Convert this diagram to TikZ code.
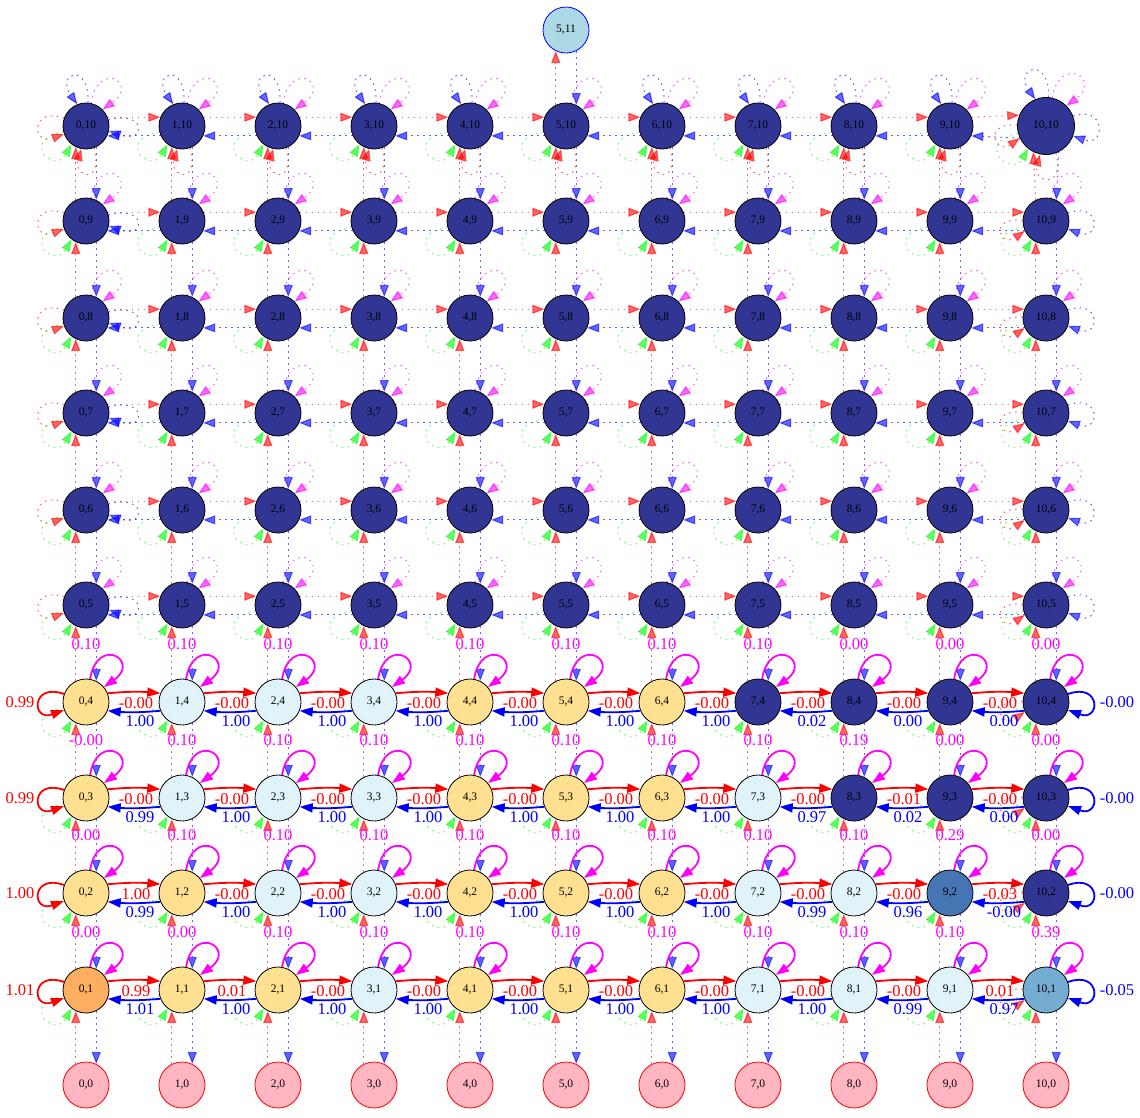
\documentclass[tikz,border=0pt]{standalone}
\usepackage{fontspec}
\setmainfont{Liberation Serif}
\usetikzlibrary{arrows.meta}
\definecolor{navy}{HTML}{313695}
\definecolor{lcyan}{HTML}{E0F3F8}
\definecolor{lyel}{HTML}{FEE090}
\definecolor{lorange}{HTML}{FDAE61}
\definecolor{mblue}{HTML}{4575B4}
\definecolor{sblue}{HTML}{74ADD1}
\definecolor{lpink}{HTML}{FFB6C1}
\definecolor{lblue}{HTML}{ADD8E6}
\definecolor{pmag}{HTML}{FF00FF}
\definecolor{pred}{HTML}{FF0000}
\definecolor{pblue}{HTML}{0000FF}
\definecolor{pgreen}{HTML}{00FF00}
\begin{document}
\begin{tikzpicture}[x=1pt,y=1pt,
 gn/.style={circle,draw=black,line width=0.8pt,inner sep=0pt,minimum size=46pt,font=\fontsize{11.5}{12}\selectfont},
 lbl/.style={font=\fontsize{16.5}{17}\selectfont,inner sep=0pt},
 solidE/.style={line width=1.8pt,-{Triangle[length=13pt,width=9pt]}},
 redE/.style={solidE,draw=pred},
 blueE/.style={solidE,draw=pblue},
 magE/.style={solidE,draw=pmag},
 dotE/.style={line width=1.1pt,dash pattern=on 1.5pt off 4.5pt,opacity=0.6,-{Triangle[length=12pt,width=9pt]}},
 redD/.style={dotE,draw=pred},
 blueD/.style={dotE,draw=pblue},
 magD/.style={dotE,draw=pmag},
 greenD/.style={dotE,draw=pgreen},
]
\useasboundingbox (0,0) rectangle (1140,-1117);

% ---------- nodes ----------
\foreach \j/\y/\cols in {
 1/990/{lorange,lyel,lyel,lcyan,lyel,lyel,lyel,lcyan,lcyan,lcyan,sblue},
 2/893/{lyel,lyel,lcyan,lcyan,lyel,lyel,lyel,lcyan,lcyan,mblue,navy},
 3/798/{lyel,lcyan,lcyan,lcyan,lyel,lyel,lyel,lcyan,navy,navy,navy},
 4/702/{lyel,lcyan,lcyan,lcyan,lyel,lyel,lyel,navy,navy,navy,navy}}{
 \foreach \c [count=\i from 0] in \cols {
   \node[gn,fill=\c] (n\i-\j) at ({86+96*\i},-\y) {\i,\j};
 }
}
\foreach \j/\y in {5/605,6/510,7/413,8/318,9/221,10/126}{
 \foreach \i in {0,...,10}{
   \pgfmathsetmacro\sz{(\i==10 && \j==10) ? 57 : 46}
   \node[gn,fill=navy,minimum size=\sz pt] (n\i-\j) at ({86+96*\i},-\y) {\i,\j};
 }
}
\foreach \i in {0,...,10}{
 \node[gn,fill=lpink,draw=pred] (n\i-0) at ({86+96*\i},-1085) {\i,0};
}
\node[gn,fill=lblue,draw=pblue] (n5-11) at (566,-30) {5,11};

% ---------- dotted vertical edges ----------
\foreach \i in {0,...,10}{
 \foreach \j in {0,...,9}{
  \pgfmathtruncatemacro\jj{\j+1}
  \draw[redD] (n\i-\j.116) -- (n\i-\jj.244);
  \draw[blueD] (n\i-\jj.-64) -- (n\i-\j.64);
 }
}
\draw[redD] (n5-10.116) -- (n5-11.244);
\draw[blueD] (n5-11.-64) -- (n5-10.64);

% ---------- green dotted loops ----------
\foreach \j in {1,...,10}{
 \foreach \i in {0,...,10}{
  \draw[greenD] (n\i-\j.195) .. controls +(190:45) and +(240:35) .. (n\i-\j.232);
 }
}

% ---------- dotted horizontal edges rows 5-10 ----------
\foreach \j in {5,...,10}{
 \foreach \i in {0,...,9}{
  \pgfmathtruncatemacro\ii{\i+1}
  \draw[redD] (n\i-\j.22) -- (n\ii-\j.158);
  \draw[blueD] (n\ii-\j.205) -- (n\i-\j.-25);
 }
 \foreach \i in {0,...,10}{
  \draw[magD] (n\i-\j.78) .. controls +(80:45) and +(35:45) .. (n\i-\j.45);
 }
 \draw[redD] (n0-\j.160) .. controls +(160:35) and +(200:35) .. (n0-\j.200);
 \draw[blueD] (n0-\j.15) .. controls +(15:40) and +(-20:40) .. (n0-\j.-12);
 \draw[blueD] (n10-\j.20) .. controls +(20:35) and +(-20:35) .. (n10-\j.-20);
}
% column 10 red dotted loops
\foreach \j in {1,...,10}{
 \draw[redD] (n10-\j.178) .. controls +(175:35) and +(215:30) .. (n10-\j.205);
}
% row 10 blue top loops and red bottom loops
\foreach \i in {0,...,10}{
 \ifnum\i=5\else
  \draw[blueD] (n\i-10.85) .. controls +(88:42) and +(125:38) .. (n\i-10.112);
 \fi
 \draw[redD] (n\i-10.290) .. controls +(285:38) and +(255:30) .. (n\i-10.258);
}

% ---------- solid horizontal edges rows 1-4 ----------
\foreach \i/\j/\r/\b in {
 0/4/-0.00/1.00, 1/4/-0.00/1.00, 2/4/-0.00/1.00, 3/4/-0.00/1.00, 4/4/-0.00/1.00,
 5/4/-0.00/1.00, 6/4/-0.00/1.00, 7/4/-0.00/0.02, 8/4/-0.00/0.00, 9/4/-0.00/0.00,
 0/3/-0.00/0.99, 1/3/-0.00/1.00, 2/3/-0.00/1.00, 3/3/-0.00/1.00, 4/3/-0.00/1.00,
 5/3/-0.00/1.00, 6/3/-0.00/1.00, 7/3/-0.00/0.97, 8/3/-0.01/0.02, 9/3/-0.00/0.00,
 0/2/1.00/0.99, 1/2/-0.00/1.00, 2/2/-0.00/1.00, 3/2/-0.00/1.00, 4/2/-0.00/1.00,
 5/2/-0.00/1.00, 6/2/-0.00/1.00, 7/2/-0.00/0.99, 8/2/-0.00/0.96, 9/2/-0.03/-0.00,
 0/1/0.99/1.01, 1/1/0.01/1.00, 2/1/-0.00/1.00, 3/1/-0.00/1.00, 4/1/-0.00/1.00,
 5/1/-0.00/1.00, 6/1/-0.00/1.00, 7/1/-0.00/1.00, 8/1/-0.00/0.99, 9/1/0.01/0.97}{
 \pgfmathtruncatemacro\ii{\i+1}
 \draw[redE] (n\i-\j.22) to[bend left=5] (n\ii-\j.158);
 \draw[blueE] (n\ii-\j.202) to[bend left=5] (n\i-\j.-22);
 \node[lbl,pred] at ([xshift=50pt,yshift=-1pt]n\i-\j) {\r};
 \node[lbl,pblue] at ([xshift=54pt,yshift=-19pt]n\i-\j) {\b};
}

% ---------- magenta self loops rows 1-4 ----------
\foreach \j/\labs in {
 1/{0.00,0.00,0.10,0.10,0.10,0.10,0.10,0.10,0.10,0.10,0.39},
 2/{0.00,0.10,0.10,0.10,0.10,0.10,0.10,0.10,0.10,0.29,0.00},
 3/{-0.00,0.10,0.10,0.10,0.10,0.10,0.10,0.10,0.19,0.00,0.00},
 4/{0.10,0.10,0.10,0.10,0.10,0.10,0.10,0.10,0.00,0.00,0.00}}{
 \foreach \l [count=\i from 0] in \labs {
  \draw[magE] (n\i-\j.80) .. controls +(80:45) and +(35:45) .. (n\i-\j.40);
  \node[lbl,pmag] at ([yshift=58pt]n\i-\j) {\l};
 }
}

% ---------- column self loops rows 1-4 ----------
\foreach \j/\l/\rr in {1/1.01/-0.05, 2/1.00/-0.00, 3/0.99/-0.00, 4/0.99/-0.00}{
 \draw[redE] (n0-\j.160) .. controls +(160:35) and +(200:35) .. (n0-\j.200);
 \node[lbl,pred] at ([xshift=-66pt]n0-\j) {\l};
 \draw[blueE] (n10-\j.20) .. controls +(20:35) and +(-20:35) .. (n10-\j.-20);
 \node[lbl,pblue] at ([xshift=71pt]n10-\j) {\rr};
}
\end{tikzpicture}
\end{document}
